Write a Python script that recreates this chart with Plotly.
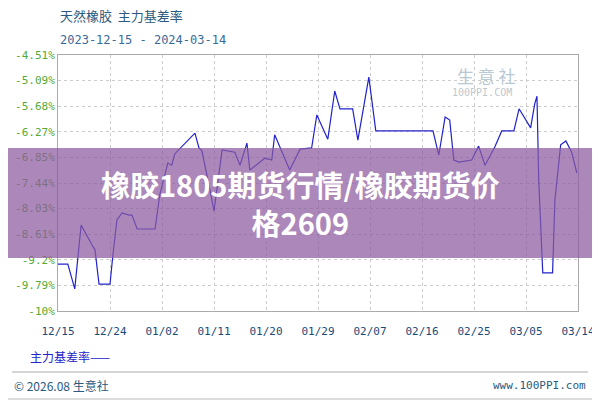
import plotly.graph_objects as go
import pandas as pd

day_offsets = [0.0,1.7,2.9,4.0,5.9,6.4,7.1,9.0,9.5,10.2,11.1,12.3,12.8,13.7,16.8,17.6,19.0,19.7,20.2,
               23.7,24.4,24.9,26.3,27.0,28.4,30.6,31.5,32.7,33.2,35.8,37.0,37.5,40.1,41.9,43.9,44.8,46.7,
               47.9,48.8,51.0,51.9,53.8,55.0,64.9,65.9,67.0,67.8,68.5,69.4,71.6,72.8,73.9,75.6,76.8,78.9,
               79.8,81.8,82.5,82.9,83.2,83.9,85.6,86.0,87.0,87.9,88.9,89.8]
basis_rate = [-9.33,-9.33,-9.90,-8.43,-8.89,-9.00,-9.79,-9.79,-9.12,-8.31,-8.15,-8.20,-8.20,-8.52,-8.52,-7.74,-7.00,-7.05,-6.79,
              -6.31,-6.65,-6.72,-7.62,-8.11,-6.70,-6.75,-7.05,-6.54,-7.16,-6.89,-6.93,-6.35,-7.16,-6.68,-6.65,-5.89,-6.45,
              -5.34,-5.75,-5.75,-6.47,-5.02,-6.26,-6.26,-6.82,-5.94,-6.01,-6.93,-6.98,-6.93,-6.61,-7.05,-6.63,-6.26,-6.26,
              -5.75,-6.19,-5.64,-5.46,-7.39,-9.53,-9.53,-7.85,-6.58,-6.49,-6.75,-7.23]
tick_vals = [-4.51,-5.10,-5.69,-6.28,-6.87,-7.46,-8.05,-8.64,-9.23,-9.82,-10.41]
tick_text = ["-4.51%","-5.09%","-5.68%","-6.27%","-6.85%","-7.44%","-8.03%","-8.61%","-9.2%","-9.79%","-10%"]

base = pd.Timestamp("2023-12-15")
dates = [base + pd.Timedelta(days=d) for d in day_offsets]

fig = go.Figure(go.Scatter(x=dates, y=basis_rate, mode="lines",
                           line=dict(color="#2222cc", width=1.2), hoverinfo="skip"))

mono = "DejaVu Sans Mono"
fig.update_layout(
    width=600, height=400, margin=dict(l=50, r=30, t=47, b=97, autoexpand=False),
    paper_bgcolor="white", plot_bgcolor="white", showlegend=False,
    font=dict(family=mono),
    xaxis=dict(type="date", range=[base, base + pd.Timedelta(days=90)], automargin=False,
               tick0=base, dtick=9*86400000, tickformat="%m/%d",
               showgrid=True, gridcolor="#cccccc", griddash="dot",
               showline=True, linecolor="#aaaaaa", mirror=True, ticks="",
               tickfont=dict(color="#1a4a7a", size=11), ticklabelstandoff=10),
    yaxis=dict(range=[-10.41, -4.51], tickvals=tick_vals, ticktext=tick_text, automargin=False,
               showgrid=True, gridcolor="#cccccc", griddash="dot",
               showline=True, linecolor="#aaaaaa", mirror=True, zeroline=False,
               tickfont=dict(color="#55aa33", size=11)),
)

anns = [
    dict(x=58, y=15, text="天然橡胶  主力基差率", font=dict(family="Noto Sans CJK SC", size=13, color="#2a5a80")),
    dict(x=58, y=40, text="2023-12-15 - 2024-03-14", font=dict(family=mono, size=12, color="#3a6a9a")),
    dict(x=28, y=356, text="主力基差率——", font=dict(family="Noto Sans CJK SC", size=12, color="#2222cc")),
    dict(x=12, y=385, text="© 2026.08 生意社", font=dict(family="Noto Sans CJK SC", size=12, color="#2a5a80")),
    dict(x=588, y=385, text="www.100PPI.com", xanchor="right", font=dict(family=mono, size=11, color="#2a5a80")),
    dict(x=455, y=75, text="生 意 社", font=dict(family="Noto Sans CJK SC", size=17, color="#b8c8d4")),
    dict(x=450, y=92, text="100PPI.COM", font=dict(family=mono, size=10, color="#c0c8d0")),
    dict(x=300, y=203, xanchor="center", text="<b>橡胶1805期货行情/橡胶期货价<br>格2609</b>",
         font=dict(family="Noto Sans CJK SC", size=29, color="white")),
]
for a in anns:
    a.setdefault("xanchor", "left")
    fig.add_annotation(x=(a["x"] - 58) / 520, y=(311 - a["y"]) / 256, xref="paper", yref="paper",
                       xanchor=a["xanchor"], yanchor="middle", text=a["text"], font=a["font"],
                       showarrow=False, align="center")

fig.add_shape(type="line", xref="paper", yref="paper", x0=(12-58)/520, x1=(588-58)/520,
              y0=(311-372)/256, y1=(311-372)/256, line=dict(color="#aaaaaa", width=1))
fig.add_shape(type="rect", xref="paper", yref="paper", x0=-58/520, x1=542/520,
              y0=(311-258)/256, y1=(311-148)/256, fillcolor="rgba(140,90,160,0.72)", line_width=0, layer="above")
fig.add_shape(type="rect", xref="paper", yref="paper", x0=-57/520, x1=541/520,
              y0=(311-399)/256, y1=(311-1)/256, line=dict(color="#bbbbbb", width=1), layer="below")

fig.write_html("out.html")
